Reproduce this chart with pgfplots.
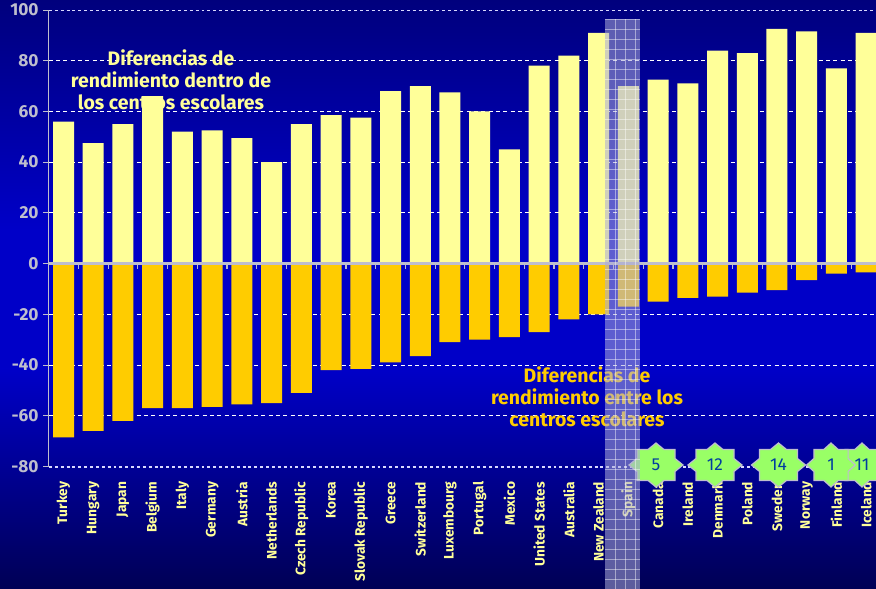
\documentclass[border=0pt]{standalone}
\usepackage{pgfplots}
\usepackage{fontspec}
\setmainfont{Fira Sans}
\pgfplotsset{compat=1.18}
\definecolor{baryel}{RGB}{255,255,153}
\definecolor{barora}{RGB}{255,204,0}
\definecolor{txtgray}{RGB}{190,190,205}
\definecolor{stargreen}{RGB}{153,255,102}
\definecolor{bgtop}{RGB}{0,0,125}
\definecolor{bgmid}{RGB}{0,0,200}
\definecolor{bgbot}{RGB}{0,0,85}
\definecolor{startxt}{RGB}{0,60,160}
\definecolor{spainc}{RGB}{170,170,215}
\begin{document}
\begin{tikzpicture}[x=0.75pt,y=0.75pt]
\useasboundingbox (0,0) rectangle (876,589);
\shade[top color=bgtop,bottom color=bgmid] (0,589) rectangle (876,359);
\fill[bgmid] (0,360) rectangle (876,219);
\shade[top color=bgmid,bottom color=bgbot] (0,220) rectangle (876,0);
\pgfplotsset{base/.style={
  scale only axis,width=620.5pt,height=342.4pt,
  xmin=-0.5,xmax=27.33,ymin=-80,ymax=100,
  at={(36.49pt,91.9pt)},anchor=south west}}
\begin{axis}[base,
  axis y line=left,axis x line=none,
  axis line style={txtgray,line width=0.8pt,-},
  ytick={-80,100},
  extra y ticks={-60,-40,-20,0,20,40,60,80},
  extra tick style={grid=major},
  grid style={white,dash pattern=on 3pt off 2.5pt,line width=0.5pt},
  major tick style={txtgray,line width=0.6pt},
  tick align=outside,major tick length=4pt,
  tick label style={font=\bfseries\fontsize{13}{15}\selectfont,text=txtgray},
  /pgf/number format/assume math mode=true,
  ybar,bar width=15.75pt]
\addplot[bar shift=0pt,fill=baryel,draw=none] coordinates {
(0,56)(1,47.5)(2,55)(3,66)(4,52)(5,52.5)(6,49.5)(7,40)(8,55)(9,58.5)(10,57.5)(11,68)(12,70)(13,67.5)(14,60)(15,45)(16,78)(17,82)(18,91)(19,70)(20,72.5)(21,71)(22,84)(23,83)(24,92.5)(25,91.5)(26,77)(27,91)};
\addplot[bar shift=0pt,fill=barora,draw=none] coordinates {
(0,-68.5)(1,-66)(2,-62)(3,-57)(4,-57)(5,-56.5)(6,-55.5)(7,-55)(8,-51)(9,-42)(10,-41.5)(11,-39)(12,-36.5)(13,-31)(14,-30)(15,-29)(16,-27)(17,-22)(18,-20)(19,-17)(20,-15)(21,-13.5)(22,-13)(23,-11.5)(24,-10.5)(25,-6.5)(26,-4)(27,-3.5)};
\end{axis}
\begin{axis}[base,
  axis x line=middle,axis y line=none,
  axis line style={txtgray,line width=1.6pt,-},
  xtick=\empty,ytick=\empty]
\addplot[ycomb,no markers,txtgray,line width=0.9pt] coordinates {(-0.5,-2)(0.5,-2)(1.5,-2)(2.5,-2)(3.5,-2)(4.5,-2)(5.5,-2)(6.5,-2)(7.5,-2)(8.5,-2)(9.5,-2)(10.5,-2)(11.5,-2)(12.5,-2)(13.5,-2)(14.5,-2)(15.5,-2)(16.5,-2)(17.5,-2)(18.5,-2)(19.5,-2)(20.5,-2)(21.5,-2)(22.5,-2)(23.5,-2)(24.5,-2)(25.5,-2)(26.5,-2)};
\end{axis}
\begin{axis}[base,
  hide y axis,
  axis x line=bottom,axis line style={draw=none},
  xtick={0,1,...,27},
  major tick length=0pt,
  xticklabels={Turkey,Hungary,Japan,Belgium,Italy,Germany,Austria,Netherlands,Czech Republic,Korea,Slovak Republic,Greece,Switzerland,Luxembourg,Portugal,Mexico,United States,Australia,New Zealand,Spain,Canada,Ireland,Denmark,Poland,Sweden,Norway,Finland,Iceland},
  xticklabel style={rotate=90,anchor=east,font=\bfseries\fontsize{10.3}{12}\selectfont,text=baryel,xshift=-8pt},
  ]
\addplot[draw=none] coordinates {(0,0)(27,0)};
\end{axis}
\draw[white!85!blue,line width=1.2pt,dash pattern=on 2.2pt off 2.2pt] (49,578.5)--(876,578.5);
\draw[white!85!blue,line width=1.2pt,dash pattern=on 2.2pt off 2.2pt] (49,122)--(876,122);
\node[align=center,text=baryel,font=\bfseries\fontsize{14.6}{16.6}\selectfont] at (171,509) {Diferencias de\\rendimiento dentro de\\los centros escolares};
\node[align=center,text=barora,font=\bfseries\fontsize{14.6}{16.6}\selectfont] at (587,192) {Diferencias de\\rendimiento entre los\\centros escolares};
\def\starpath#1#2{(#1+27*#2,124)--(#1+19*#2,130.5)--(#1+19*#2,139.5)--(#1+8*#2,139.5)--(#1,146)--(#1-8*#2,139.5)--(#1-19*#2,139.5)--(#1-19*#2,130.5)--(#1-27*#2,124)--(#1-19*#2,117.5)--(#1-19*#2,108.5)--(#1-8*#2,108.5)--(#1,102)--(#1+8*#2,108.5)--(#1+19*#2,108.5)--(#1+19*#2,117.5)--cycle}
\foreach \cx/\sx/\lab in {656/1/5,715/1/12,778.5/1/14,862/0.9/11,831/0.9/1}{
  \draw[fill=stargreen,draw=txtgray,line width=0.9pt] \starpath{\cx}{\sx};
  \node[text=startxt,font=\fontsize{13}{15}\selectfont] at (\cx,124) {\lab};
}
\fill[fill=spainc,fill opacity=0.55] (605,0) rectangle (640,570);
\foreach \gx in {615,625,635}{\draw[white,opacity=0.45,line width=0.4pt] (\gx,0)--(\gx,570);}
\foreach \gy in {0,10,...,570}{\draw[white,opacity=0.45,line width=0.4pt] (605,\gy)--(640,\gy);}
\end{tikzpicture}
\end{document}
